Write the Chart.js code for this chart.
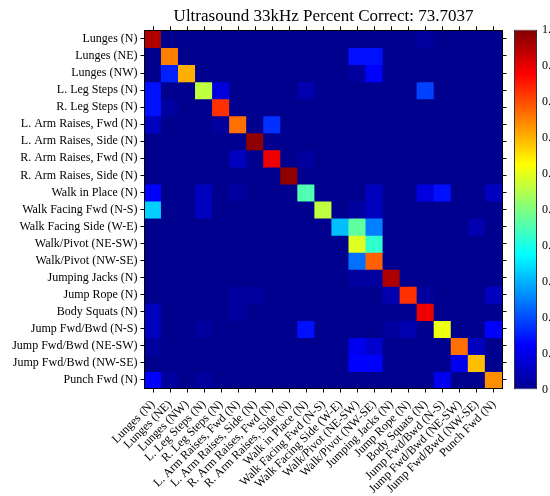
<!DOCTYPE html>
<html>
<head>
<meta charset="utf-8">
<script src="https://cdn.jsdelivr.net/npm/chart.js@4.4.1/dist/chart.umd.min.js"></script>
<style>
body { margin:0; background:#fff; width:550px; height:496px; overflow:hidden; position:relative; }
#main { position:absolute; left:0; top:0; }
#cbWrap { position:absolute; left:500px; top:0; width:50px; height:496px; overflow:hidden; }
#cb { position:absolute; left:0; top:0; }
</style>
</head>
<body>
<canvas id="main" width="550" height="496"></canvas>
<div id="cbWrap"><canvas id="cb" width="80" height="496"></canvas></div>
<script>
var classes = [
  "Lunges (N)", "Lunges (NE)", "Lunges (NW)", "L. Leg Steps (N)", "R. Leg Steps (N)",
  "L. Arm Raises, Fwd (N)", "L. Arm Raises, Side (N)", "R. Arm Raises, Fwd (N)",
  "R. Arm Raises, Side (N)", "Walk in Place (N)", "Walk Facing Fwd (N-S)",
  "Walk Facing Side (W-E)", "Walk/Pivot (NE-SW)", "Walk/Pivot (NW-SE)",
  "Jumping Jacks (N)", "Jump Rope (N)", "Body Squats (N)", "Jump Fwd/Bwd (N-S)",
  "Jump Fwd/Bwd (NE-SW)", "Jump Fwd/Bwd (NW-SE)", "Punch Fwd (N)"
];
var percentCorrect = "73.7037";

// rows = true class, columns = predicted class (fraction of row)
var confusion = [
  [.95,0,0,0,0,0,0,0,0,0,0,0,0,0,0,0,.03,0,0,0,0],
  [0,.74,0,0,0,0,0,0,0,0,0,0,.13,.13,0,0,0,0,0,0,0],
  [0,.15,.70,0,0,0,0,0,0,0,0,0,.03,.12,0,0,0,0,0,0,0],
  [.13,0,0,.56,.09,0,0,0,0,.04,0,0,0,0,0,0,.18,0,0,0,0],
  [.14,.02,0,0,.82,0,0,0,0,0,0,0,0,0,0,0,0,0,0,0,0],
  [.05,0,0,0,.02,.76,0,.17,0,0,0,0,0,0,0,0,0,0,0,0,0],
  [0,0,0,0,0,0,.97,0,0,0,0,0,0,0,0,0,0,0,0,0,0],
  [0,0,0,0,0,.06,0,.88,0,.03,0,0,0,0,0,0,0,0,0,0,0],
  [0,0,0,0,0,0,0,0,.97,0,0,0,0,0,0,0,0,0,0,0,0],
  [.12,0,0,.05,0,.03,0,0,0,.45,0,0,0,.06,0,0,.09,.14,0,0,.06],
  [.32,0,0,.06,0,0,0,0,0,0,.55,0,.03,.05,0,0,0,0,0,0,0],
  [0,0,0,0,0,0,0,0,0,0,0,.31,.46,.24,0,0,0,0,0,.04,0],
  [0,0,0,0,0,0,0,0,0,0,0,0,.58,.42,0,0,0,0,0,0,0],
  [0,0,0,0,0,0,0,0,0,0,0,0,.22,.78,0,0,0,0,0,0,0],
  [0,0,0,0,0,0,0,0,0,0,0,0,.02,.02,.94,0,0,0,0,0,0],
  [0,0,0,0,0,.03,.03,0,0,0,0,0,0,0,.04,.82,.02,0,0,0,.06],
  [.05,0,0,0,0,.02,0,0,0,0,0,0,0,0,0,0,.88,0,0,0,0],
  [.05,0,0,.03,0,0,0,0,0,.13,0,0,0,0,.03,.04,0,.60,0,0,.12],
  [.03,0,0,0,0,0,0,0,0,0,0,0,.10,.07,0,0,0,0,.76,.05,0],
  [0,0,0,0,0,0,0,0,0,0,0,0,.11,.11,0,0,0,0,.10,.68,0],
  [.12,.02,0,.02,0,0,0,0,0,0,0,0,0,0,0,0,0,.10,0,0,.73]
];

function jetAt(v) {
  var f = function (x) { return Math.round(255 * Math.min(1, Math.max(0, 1.5 - Math.abs(4 * v - x)))); };
  return "rgb(" + f(3) + "," + f(2) + "," + f(1) + ")";
}
// 64-level jet like matlab's default colormap
function jet(v) {
  var i = Math.min(63, Math.floor(v * 64)) + 1;
  return jetAt(i / 64);
}

var serif = "'Liberation Serif', 'Times New Roman', serif";
var tickFont = { family: serif, size: 12 };

function cellTicks(axis) {
  axis.ticks = classes.map(function (_, i) { return { value: i + 0.5 }; });
}

// each true class is one stacked row of unit-height cells, coloured by its value
var datasets = confusion.map(function (row, r) {
  return {
    label: classes[r],
    data: classes.map(function () { return 1; }),
    backgroundColor: row.map(jet),
    borderWidth: 0,
    inflateAmount: 0.6,
    barPercentage: 1,
    categoryPercentage: 1
  };
});

new Chart(document.getElementById("main"), {
  type: "bar",
  data: { labels: classes, datasets: datasets },
  options: {
    responsive: false,
    animation: false,
    devicePixelRatio: 1,
    layout: { padding: 0 },
    plugins: {
      legend: { display: false },
      tooltip: { enabled: false },
      title: {
        display: true,
        text: "Ultrasound 33kHz Percent Correct: " + percentCorrect,
        font: { family: serif, size: 17, weight: "normal" },
        color: "#000",
        padding: { top: 6, bottom: 0 },
        fullSize: false
      }
    },
    scales: {
      x: {
        type: "category",
        stacked: true,
        offset: true,
        grid: { offset: false, drawOnChartArea: false, drawTicks: true, tickLength: 4, tickColor: "#000" },
        border: { display: true, color: "#000", z: 1 },
        ticks: { font: tickFont, color: "#000", minRotation: 45, maxRotation: 45, autoSkip: false, padding: 5 },
        afterFit: function (s) { s.height = 107.5; }
      },
      x2: {
        type: "category",
        position: "top",
        offset: true,
        grid: { offset: false, drawOnChartArea: false, drawTicks: true, tickLength: 4, tickColor: "#000" },
        border: { display: true, color: "#000", z: 1 },
        ticks: { display: false },
        afterFit: function (s) { s.height = 4; }
      },
      y: {
        type: "linear",
        stacked: true,
        reverse: true,
        min: 0,
        max: 21,
        afterBuildTicks: cellTicks,
        grid: { drawOnChartArea: false, drawTicks: true, tickLength: 4, tickColor: "#000" },
        border: { display: true, color: "#000", z: 1 },
        ticks: {
          font: tickFont, color: "#000", padding: 3,
          callback: function (v) { return classes[Math.floor(v)]; }
        },
        afterFit: function (s) { s.width = 144.5; }
      },
      y2: {
        type: "linear",
        position: "right",
        reverse: true,
        min: 0,
        max: 21,
        afterBuildTicks: cellTicks,
        grid: { drawOnChartArea: false, drawTicks: true, tickLength: 4, tickColor: "#000" },
        border: { display: true, color: "#000", z: 1 },
        ticks: { display: false },
        afterFit: function (s) { s.width = 47.5; }
      }
    }
  }
});

// colour bar
var cbStops = [0, 0.125, 0.375, 0.625, 0.875, 1];
new Chart(document.getElementById("cb"), {
  type: "bar",
  data: {
    labels: [""],
    datasets: [{
      data: [[0, 1]],
      backgroundColor: function (ctx) {
        var a = ctx.chart.chartArea;
        if (!a) return jetAt(0.5);
        var g = ctx.chart.ctx.createLinearGradient(0, a.bottom, 0, a.top);
        cbStops.forEach(function (s) { g.addColorStop(s, jetAt(Math.max(s, 1 / 64))); });
        return g;
      },
      borderColor: "#333",
      borderWidth: 1,
      borderSkipped: false,
      inflateAmount: 0,
      barPercentage: 1,
      categoryPercentage: 1
    }]
  },
  options: {
    responsive: false,
    animation: false,
    devicePixelRatio: 1,
    layout: { padding: { left: 14, top: 29.5, bottom: 106.5, right: 0 } },
    plugins: { legend: { display: false }, tooltip: { enabled: false } },
    scales: {
      x: { display: false },
      y: {
        position: "right",
        min: 0,
        max: 1,
        grid: { display: false, drawTicks: false },
        border: { display: false },
        ticks: { stepSize: 0.1, font: tickFont, color: "#000", padding: 5 },
        afterFit: function (s) { s.width = 43; }
      }
    }
  }
});
</script>
</body>
</html>
